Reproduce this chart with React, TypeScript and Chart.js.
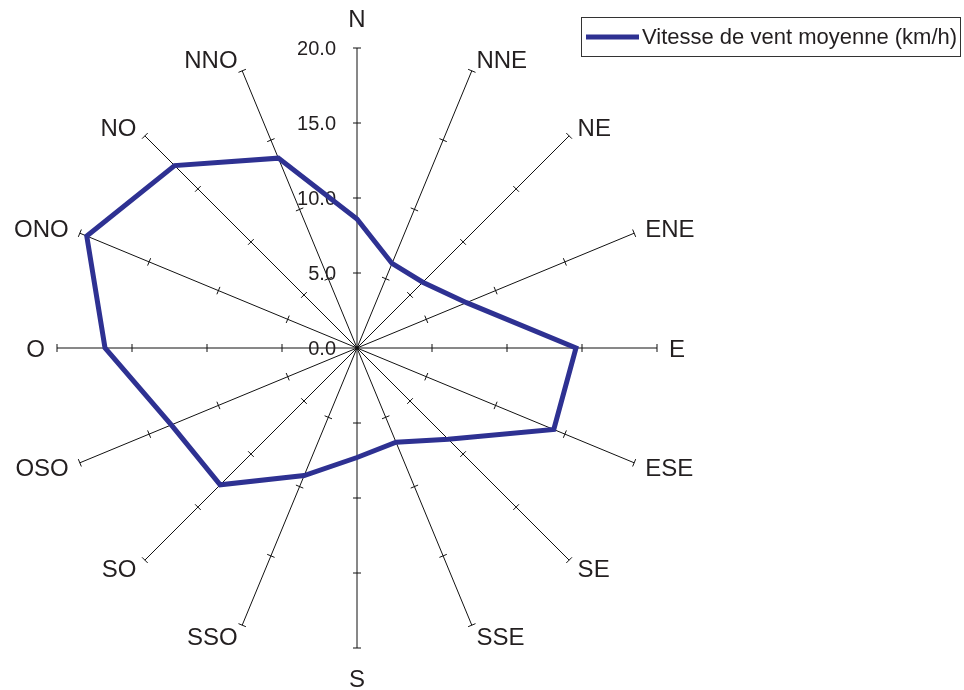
import React, { useEffect, useRef } from "react";
import { Chart, registerables } from "chart.js";

Chart.register(...registerables);

// Wind directions (French compass points), clockwise from north
const directions = [
  "N", "NNE", "NE", "ENE", "E", "ESE", "SE", "SSE",
  "S", "SSO", "SO", "OSO", "O", "ONO", "NO", "NNO",
];

// Mean wind speed per direction (km/h)
const meanSpeed = [
  8.6, 6.1, 6.2, 7.9, 14.6, 14.2, 8.6, 6.8,
  7.3, 9.2, 12.9, 13.4, 16.8, 19.5, 17.2, 13.7,
];

const seriesLabel = "Vitesse de vent moyenne (km/h)";

// Radial axis graduation
const tickValues = [0, 5, 10, 15, 20];
const tickLabels = ["0.0", "5.0", "10.0", "15.0", "20.0"];

const FONT = "'Liberation Sans', Arial, sans-serif";
const LINE_COLOR = "#2e3192";
const TEXT_COLOR = "#231f20";

// Tick marks across every spoke, value labels along the north spoke,
// and compass labels at the spoke ends.
const spokeDecor = {
  id: "spokeDecor",
  beforeDatasetsDraw(chart: any) {
    const scale = chart.scales.r;
    const ctx = chart.ctx;
    const n = chart.data.labels.length;
    ctx.save();

    // small perpendicular marks on each spoke
    ctx.strokeStyle = "#111";
    ctx.lineWidth = 1;
    for (let i = 0; i < n; i++) {
      const a = scale.getIndexAngle(i) - Math.PI / 2;
      const px = -Math.sin(a);
      const py = Math.cos(a);
      for (const v of tickValues) {
        if (v === 0) continue;
        const p = scale.getPointPositionForValue(i, v);
        ctx.beginPath();
        ctx.moveTo(p.x - px * 4, p.y - py * 4);
        ctx.lineTo(p.x + px * 4, p.y + py * 4);
        ctx.stroke();
      }
    }

    // value labels left of the north spoke
    ctx.fillStyle = TEXT_COLOR;
    ctx.font = `20px ${FONT}`;
    ctx.textAlign = "right";
    ctx.textBaseline = "middle";
    tickValues.forEach((v, k) => {
      const p = scale.getPointPositionForValue(0, v);
      ctx.fillText(tickLabels[k], p.x - 21, p.y + 1);
    });

    // compass labels
    ctx.font = `24px ${FONT}`;
    const R = scale.drawingArea;
    for (let i = 0; i < n; i++) {
      const a = scale.getIndexAngle(i);
      const vertical = Math.abs(Math.sin(a)) < 1e-6;
      const p = scale.getPointPosition(i, R + (vertical ? 30 : 12));
      if (vertical) ctx.textAlign = "center";
      else ctx.textAlign = p.x > scale.xCenter ? "left" : "right";
      ctx.textBaseline = "middle";
      ctx.fillText(chart.data.labels[i], p.x, p.y + 2);
    }
    ctx.restore();
  },
  afterDraw(chart: any) {
    // boxed legend in the top-right corner
    const ctx = chart.ctx;
    const x0 = 581;
    const y0 = 17;
    const w = 379;
    const h = 39;
    ctx.save();
    ctx.fillStyle = "#fff";
    ctx.fillRect(x0, y0, w, h);
    ctx.strokeStyle = "#333";
    ctx.lineWidth = 1;
    ctx.strokeRect(x0 + 0.5, y0 + 0.5, w, h);
    ctx.strokeStyle = LINE_COLOR;
    ctx.lineWidth = 5;
    ctx.beginPath();
    ctx.moveTo(x0 + 5, y0 + 20);
    ctx.lineTo(x0 + 58, y0 + 20);
    ctx.stroke();
    ctx.fillStyle = TEXT_COLOR;
    ctx.font = `22px ${FONT}`;
    ctx.textAlign = "left";
    ctx.textBaseline = "middle";
    ctx.fillText(chart.data.datasets[0].label, x0 + 61, y0 + 21);
    ctx.restore();
  },
};

export default function App() {
  const canvasRef = useRef<HTMLCanvasElement | null>(null);

  useEffect(() => {
    const canvas = canvasRef.current;
    if (!canvas) return;
    const chart = new Chart(canvas, {
      type: "radar",
      data: {
        labels: directions,
        datasets: [
          {
            label: seriesLabel,
            data: meanSpeed,
            borderColor: LINE_COLOR,
            borderWidth: 5,
            borderJoinStyle: "miter",
            fill: false,
            pointRadius: 0,
            pointHoverRadius: 0,
            tension: 0,
          },
        ],
      },
      options: {
        responsive: false,
        animation: false,
        devicePixelRatio: 1,
        layout: { padding: { left: 57, top: 48, right: 307, bottom: 42 } },
        plugins: {
          legend: { display: false },
          tooltip: { enabled: false },
        },
        scales: {
          r: {
            min: 0,
            max: 20,
            beginAtZero: true,
            ticks: { display: false, stepSize: 5 },
            grid: { display: false },
            angleLines: { display: true, color: "#111", lineWidth: 1 },
            pointLabels: { display: false },
          },
        },
      },
      plugins: [spokeDecor],
    });
    return () => chart.destroy();
  }, []);

  return (
    <div style={{ position: "fixed", left: 0, top: 0, width: 964, height: 690, background: "#fff" }}>
      <canvas ref={canvasRef} width={964} height={690} />
    </div>
  );
}
